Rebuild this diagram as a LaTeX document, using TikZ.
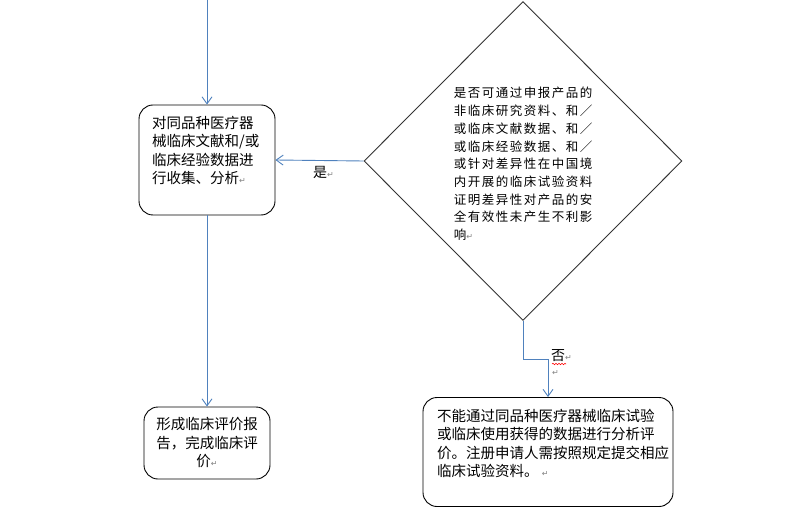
\documentclass[tikz,border=0pt]{standalone}
\usepackage{fontspec}
\setmainfont{Noto Sans CJK SC}
\newfontfamily\cjkspaced[LetterSpace=12]{Noto Sans CJK SC}
\newfontfamily\symfont{DejaVu Sans}
\usetikzlibrary{shapes.geometric,arrows.meta,decorations.pathmorphing}
\definecolor{linkblue}{RGB}{79,129,189}
\definecolor{pmgray}{RGB}{130,130,130}
\newcommand{\pmark}{{\symfont\fontsize{8}{8}\selectfont\color{pmgray}↵}}
\begin{document}
\begin{tikzpicture}[x=1pt,y=-1pt,
  box/.style={draw=black, line width=0.9pt, rounded corners=14pt, fill=white, inner sep=0},
  conn/.style={draw=linkblue, line width=0.9pt, -{Straight Barb[length=7pt,width=10pt]}},
  txt/.style={font=\fontsize{14.5}{18.5}\selectfont, align=left, inner sep=0},
  dtxt/.style={font=\cjkspaced\fontsize{12.5}{17.7}\selectfont, align=left, inner sep=0},
  lbl/.style={font=\fontsize{14}{14}\selectfont, inner sep=0}
]
\useasboundingbox (0,0) rectangle (791,510);

\node[box, minimum width=136pt, minimum height=110pt] (b1) at (207,160) {};
\node[txt, anchor=north west] (t1) at (152,116) {对同品种医疗器\\械临床文献和/或\\临床经验数据进\\行收集、分析\pmark};

\node[box, minimum width=126pt, minimum height=72pt] (b2) at (207,443) {};
\node[txt, align=center] (t2) at (207,443) {形成临床评价报\\告，完成临床评\\价\pmark};

\node[draw=black!80, diamond, line width=0.9pt, minimum width=318pt, minimum height=319pt, inner sep=0] (d) at (523,161) {};
\node[dtxt] (dt) at (523,164) {是否可通过申报产品的\\非临床研究资料、和／\\或临床文献数据、和／\\或临床经验数据、和／\\或针对差异性在中国境\\内开展的临床试验资料\\证明差异性对产品的安\\全有效性未产生不利影\\响\pmark};

\node[box, minimum width=250pt, minimum height=109pt] (b3) at (548,452) {};
\node[txt, anchor=north west] (t3) at (437,409) {不能通过同品种医疗器械临床试验\\或临床使用获得的数据进行分析评\\价。注册申请人需按照规定提交相应\\临床试验资料。 \pmark};

\coordinate (top) at (207,0);
\draw[conn] (top) -- (b1.north);
\draw[conn] (b1.south) -- (b2.north);
\draw[conn] (d.west) -- (b1.east);
\draw[conn] (d.south) -- ++(0,38) -| (b3.north);

\node[lbl, anchor=west] (yes) at (313,172) {是\pmark};
\node[lbl, anchor=west] (no) at (551,356) {否\pmark};
\node[lbl, anchor=west] (nop) at (552,373) {\pmark};
\draw[red, line width=0.6pt, decorate, decoration={snake, amplitude=0.7pt, segment length=3pt}] (552,364) -- (566,364);
\end{tikzpicture}
\end{document}
